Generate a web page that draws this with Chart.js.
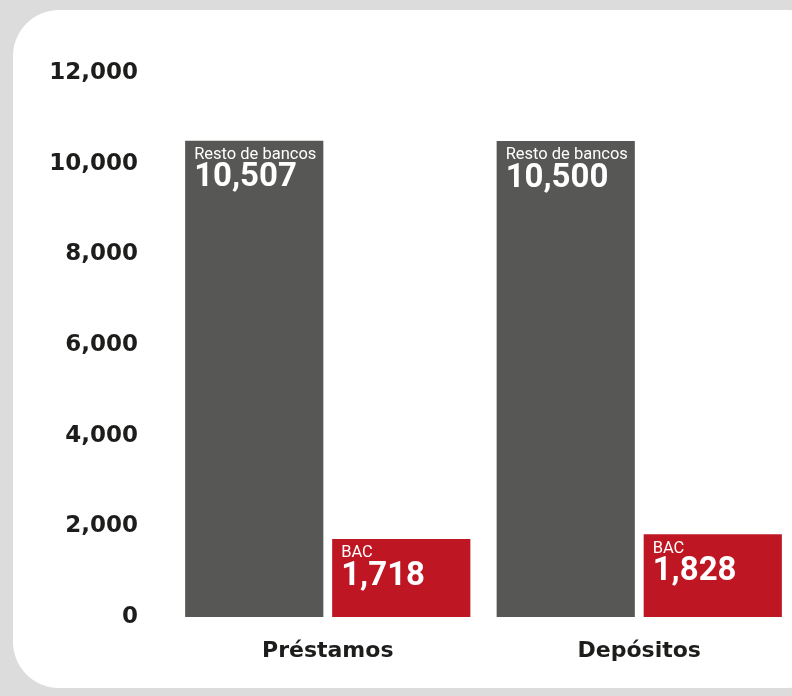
<!DOCTYPE html>
<html>
<head>
<meta charset="utf-8">
<script src="https://cdn.jsdelivr.net/npm/chart.js@4/dist/chart.umd.min.js"></script>
<style>
  html, body { margin: 0; padding: 0; width: 792px; height: 696px; overflow: hidden; background: #dcdcdc; }
  .card { position: absolute; left: 13px; top: 10px; width: 820px; height: 678px; background: #fff; border-radius: 46px; }
  .wrap { position: absolute; left: 0; top: 0; width: 800px; height: 696px; }
</style>
</head>
<body>
<div class="card"></div>
<div class="wrap"><canvas id="chart" width="800" height="696"></canvas></div>
<script>
const categories = ["Préstamos", "Depósitos"];
const restoBancos = [10507, 10500];
const bac = [1718, 1828];
const yTicks = [0, 2000, 4000, 6000, 8000, 10000, 12000];

const GRAY = "#575756";
const RED = "#be1622";
const INK = "#1d1d1b";

/* texto dentro de cada barra: nombre de serie + valor */
const barText = {
  id: "barText",
  afterDatasetsDraw(chart) {
    const ctx = chart.ctx;
    ctx.save();
    ctx.fillStyle = "#fff";
    ctx.textAlign = "left";
    ctx.textBaseline = "top";
    chart.data.datasets.forEach((ds, i) => {
      chart.getDatasetMeta(i).data.forEach((bar, j) => {
        const x = bar.x - bar.width / 2 + 9;
        ctx.font = "16.5px Roboto";
        ctx.fillText(ds.label, x, bar.y + 6);
        ctx.font = "bold 33px Roboto";
        ctx.fillText(ds.data[j].toLocaleString("en-US"), x, bar.y + 21);
      });
    });
    ctx.restore();
  }
};

new Chart(document.getElementById("chart"), {
  type: "bar",
  data: {
    labels: categories,
    datasets: [
      { label: "Resto de bancos", data: restoBancos, backgroundColor: GRAY },
      { label: "BAC", data: bac, backgroundColor: RED }
    ]
  },
  options: {
    responsive: false,
    animation: false,
    devicePixelRatio: 1,
    categoryPercentage: 0.944,
    barPercentage: 0.94,
    layout: { padding: { top: 73, bottom: 29, left: 0, right: 5 } },
    plugins: { legend: { display: false }, tooltip: { enabled: false } },
    scales: {
      x: {
        afterFit: s => { s.height = 50; },
        grid: { display: false },
        border: { display: false },
        ticks: { color: INK, padding: 13, font: { family: "DejaVu Sans", size: 22, weight: "bold" } }
      },
      y: {
        min: 0,
        max: 12000,
        afterBuildTicks: s => { s.ticks = yTicks.map(v => ({ value: v })); },
        afterFit: s => { s.width = 172; },
        grid: { display: false },
        border: { display: false },
        ticks: {
          color: INK,
          padding: 26,
          font: { family: "DejaVu Sans", size: 23, weight: "bold" },
          callback: v => v.toLocaleString("en-US")
        }
      }
    }
  },
  plugins: [barText]
});
</script>
</body>
</html>
